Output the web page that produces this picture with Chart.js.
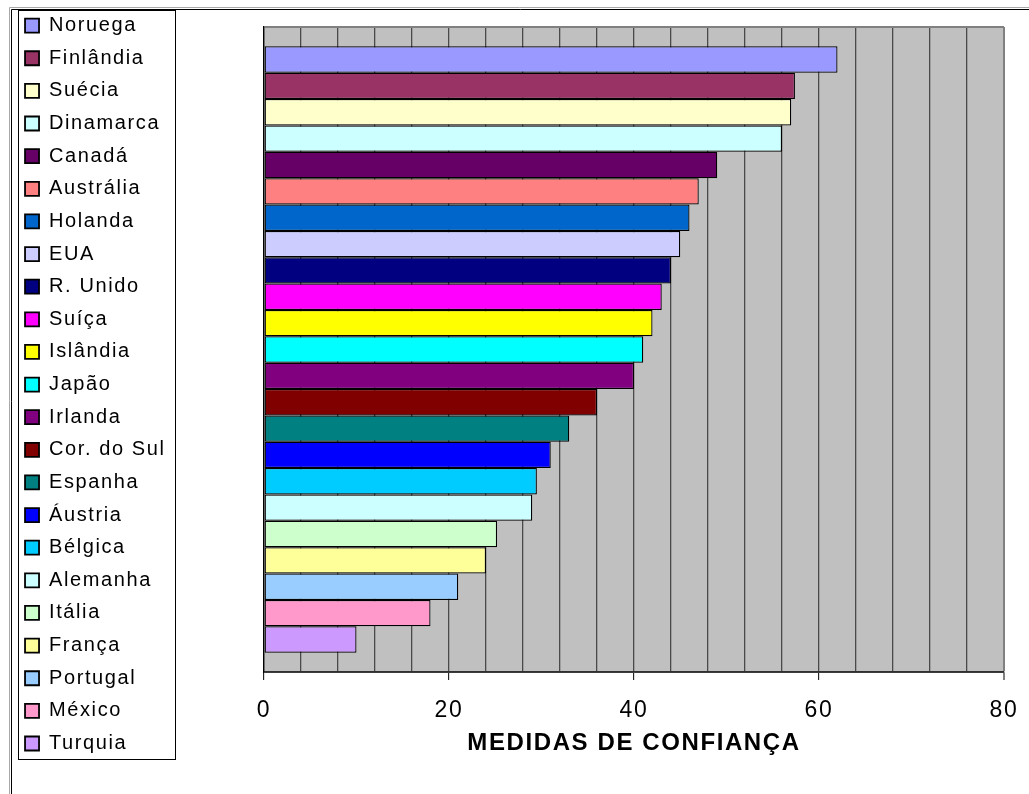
<!DOCTYPE html>
<html>
<head>
<meta charset="utf-8">
<script src="https://cdn.jsdelivr.net/npm/chart.js@4/dist/chart.umd.min.js"></script>
<style>
  html, body { margin: 0; padding: 0; background: #ffffff; }
  #wrap { width: 1029px; height: 794px; position: relative; }
</style>
</head>
<body>
<div id="wrap"><canvas id="c" width="1029" height="794"></canvas></div>
<script>
// ---- data ----
const countries = ['Noruega', 'Finlândia', 'Suécia', 'Dinamarca', 'Canadá', 'Austrália', 'Holanda', 'EUA',
  'R. Unido', 'Suíça', 'Islândia', 'Japão', 'Irlanda', 'Cor. do Sul', 'Espanha', 'Áustria', 'Bélgica',
  'Alemanha', 'Itália', 'França', 'Portugal', 'México', 'Turquia'];
const values = [62, 57.4, 57, 56, 49, 47, 46, 45, 44, 43, 42, 41, 40, 36, 33, 31, 29.5, 29, 25.2, 24, 21, 18, 10];
const colors = ['#9999FF', '#993366', '#FFFFCC', '#CCFFFF', '#660066', '#FF8080', '#0066CC', '#CCCCFF',
  '#000080', '#FF00FF', '#FFFF00', '#00FFFF', '#800080', '#800000', '#008080', '#0000FF', '#00CCFF',
  '#CCFFFF', '#CCFFCC', '#FFFF99', '#99CCFF', '#FF99CC', '#CC99FF'];
const categoryLabels = [''];
const xMin = 0;
const xMax = 80;
const gridStep = 4;
const labelStep = 20;
const axisTitle = 'MEDIDAS DE CONFIANÇA';

// ---- style ----
const FONT = "'Liberation Sans', Arial, Helvetica, sans-serif";
const LETTER_SPACING = '1.6px';
const PAD_LEFT = 12.4;
const PLOT_LEFT = 264;

const datasets = countries.map((name, i) => ({
  label: name,
  data: [values[i]],
  backgroundColor: colors[i],
  borderColor: '#000000',
  borderWidth: 1.25,
  borderSkipped: false,
  categoryPercentage: 0.94,
  barPercentage: 1.0
}));

const decorPlugin = {
  id: 'decor',
  beforeUpdate(chart) {
    chart.ctx.letterSpacing = LETTER_SPACING;
  },
  beforeDraw(chart) {
    const ctx = chart.ctx;
    ctx.letterSpacing = LETTER_SPACING;
    const a = chart.chartArea;
    ctx.save();
    ctx.fillStyle = '#C0C0C0';
    ctx.fillRect(a.left, a.top, a.right - a.left, a.bottom - a.top);
    ctx.restore();
  },
  afterDraw(chart) {
    const ctx = chart.ctx;
    const W = chart.width, H = chart.height;
    ctx.save();
    // outer chart frame
    ctx.lineWidth = 1;
    ctx.strokeStyle = '#a8a8a8';
    ctx.beginPath();
    ctx.moveTo(9.5, H); ctx.lineTo(9.5, 7.5); ctx.lineTo(W, 7.5);
    ctx.stroke();
    ctx.strokeStyle = '#000000';
    ctx.beginPath();
    ctx.moveTo(11.5, H); ctx.lineTo(11.5, 9.5); ctx.lineTo(W, 9.5);
    ctx.stroke();
    // legend frame
    const lg = chart.legend;
    const hb = lg.legendHitBoxes;
    if (hb && hb.length) {
      const first = hb[0], last = hb[hb.length - 1];
      let maxRight = 0;
      hb.forEach(h => { maxRight = Math.max(maxRight, h.left + h.width); });
      const l = Math.round(first.left - 7.5) + 0.5;
      const t = Math.round(first.top - 6.1) + 0.5;
      const r = Math.round(maxRight + 9) + 0.5;
      const b = Math.round(last.top + last.height + 6) + 0.5;
      ctx.strokeStyle = '#000000';
      ctx.strokeRect(l, t, r - l, b - t);
    }
    ctx.restore();
  }
};

new Chart(document.getElementById('c'), {
  type: 'bar',
  data: { labels: categoryLabels, datasets: datasets },
  options: {
    indexAxis: 'y',
    responsive: false,
    animation: false,
    devicePixelRatio: 1,
    layout: { padding: { left: PAD_LEFT, top: 3, right: 25, bottom: 0 } },
    plugins: {
      tooltip: { enabled: false },
      title: {
        display: true,
        text: '',
        fullSize: false,
        padding: 0,
        font: { family: FONT, size: 20, lineHeight: 1.2 }
      },
      legend: {
        display: true,
        position: 'left',
        align: 'start',
        fullSize: true,
        labels: {
          color: '#000000',
          font: { family: FONT, size: 20 },
          boxWidth: 14,
          boxHeight: 14,
          padding: 12.63,
          generateLabels: (chart) => {
            const items = Chart.defaults.plugins.legend.labels.generateLabels(chart);
            items.forEach(it => { it.lineWidth = 1.8; });
            return items;
          }
        }
      }
    },
    scales: {
      x: {
        type: 'linear',
        position: 'bottom',
        min: xMin,
        max: xMax,
        ticks: {
          stepSize: gridStep,
          maxTicksLimit: 30,
          autoSkip: false,
          maxRotation: 0,
          padding: 10,
          color: '#000000',
          font: { family: FONT, size: 23, lineHeight: '42px' },
          callback: (v) => (v % labelStep === 0 ? String(v) : '')
        },
        grid: {
          display: true,
          drawOnChartArea: true,
          drawTicks: true,
          tickLength: 8,
          color: (c) => (c.tick && c.tick.value === xMax ? '#808080' : '#4a4a4a'),
          lineWidth: (c) => (c.tick && c.tick.value === xMax ? 2 : 1.3),
          tickColor: (c) => (c.tick && c.tick.value % labelStep === 0 ? '#000000' : 'rgba(0,0,0,0)'),
          tickWidth: 1
        },
        border: { display: true, color: '#303030', width: 1.3 },
        title: {
          display: true,
          text: axisTitle,
          color: '#000000',
          font: { family: FONT, size: 24, weight: 'bold', lineHeight: '2px' },
          padding: { top: 0, bottom: 50 }
        }
      },
      y: {
        type: 'category',
        position: 'left',
        offset: true,
        ticks: { display: false },
        grid: {
          display: true,
          offset: true,
          drawTicks: false,
          color: (c) => (c.index === 0 ? '#808080' : '#404040'),
          lineWidth: (c) => (c.index === 0 ? 2 : 1)
        },
        border: { display: true, color: '#000000', width: 1.3 },
        afterFit(scale) {
          const lg = scale.chart.legend;
          const lw = lg && lg.width ? lg.width : 0;
          scale.width = Math.max(0, PLOT_LEFT - PAD_LEFT - lw);
        }
      }
    }
  },
  plugins: [decorPlugin]
});
</script>
</body>
</html>
